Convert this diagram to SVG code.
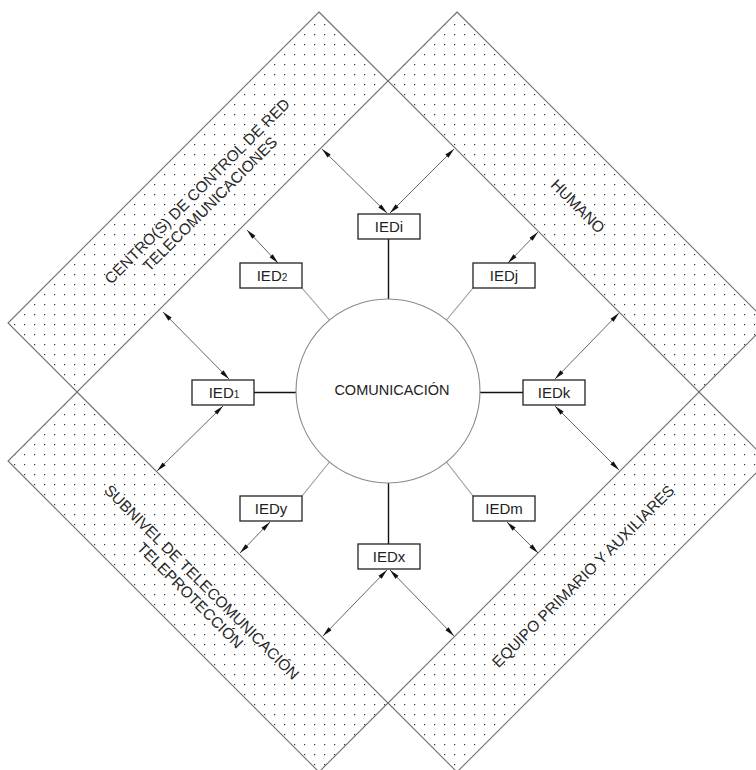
<svg xmlns="http://www.w3.org/2000/svg" width="756" height="770" viewBox="0 0 756 770">
<defs>
<pattern id="dots" patternUnits="userSpaceOnUse" width="10" height="10">
<rect x="4" y="4" width="1.2" height="1.2" fill="#333"/>
</pattern>
<marker id="ah" viewBox="0 0 10 6" refX="10" refY="3" markerWidth="10" markerHeight="6" markerUnits="userSpaceOnUse" orient="auto-start-reverse">
<path d="M0,0.8 L10,3 L0,5.2 z" fill="#111"/>
</marker>
<style>
.band{fill:url(#dots);stroke:#6e6e6e;stroke-width:1.1}
.lbl{font-family:"Liberation Sans",Arial,sans-serif;font-size:15.5px;fill:#2a2a2a;text-anchor:middle}
.box{fill:#fff;stroke:#222;stroke-width:1.3}
.bt{font-family:"Liberation Sans",Arial,sans-serif;font-size:15px;fill:#222;text-anchor:middle}
.sub{font-size:10px}
.blk{stroke:#111;stroke-width:1.4;fill:none}
.gry{stroke:#999;stroke-width:1.1;fill:none}
.arr{stroke:#666;stroke-width:1;fill:none;marker-start:url(#ah);marker-end:url(#ah)}
</style>
</defs>
<rect width="756" height="770" fill="#fff"/>
<g id="band-control">
<polygon class="band" points="319,12 388,81 77,392 8,323"/>
<g transform="translate(201,195) rotate(-45)">
<text class="lbl" x="0" y="0">CENTRO(S) DE CONTROL DE RED</text>
<text class="lbl" x="0" y="18">TELECOMUNICACIONES</text>
</g>
</g>
<g id="band-humano">
<polygon class="band" points="457,12 768,323 699,392 388,81"/>
<text class="lbl" transform="translate(574,210) rotate(45)" x="0" y="0">HUMANO</text>
</g>
<g id="band-subnivel">
<polygon class="band" points="77,392 388,703 319,772 8,461"/>
<g transform="translate(198,586) rotate(45)">
<text class="lbl" x="0" y="0">SUBNIVEL DE TELECOMUNICACIÓN</text>
<text class="lbl" x="1" y="17.5">TELEPROTECCIÓN</text>
</g>
</g>
<g id="band-equipo">
<polygon class="band" points="699,392 768,461 457,772 388,703"/>
<text class="lbl" transform="translate(587,580) rotate(-45)" x="0" y="0">EQUIPO PRIMARIO Y AUXILIARES</text>
</g>
<g id="connectors">
<line class="blk" x1="388.5" y1="239" x2="388.5" y2="299"/>
<line class="blk" x1="480" y1="392.5" x2="523" y2="392.5"/>
<line class="blk" x1="388.5" y1="483" x2="388.5" y2="544"/>
<line class="blk" x1="254" y1="392.5" x2="296" y2="392.5"/>
<line class="gry" x1="473" y1="288" x2="446.5" y2="320"/>
<line class="gry" x1="302" y1="288" x2="329.5" y2="320"/>
<line class="gry" x1="302" y1="496" x2="329.5" y2="462"/>
<line class="gry" x1="473" y1="496" x2="446.5" y2="462"/>
<line class="arr" x1="163" y1="312" x2="229" y2="379"/>
<line class="arr" x1="247" y1="230" x2="278" y2="263"/>
<line class="arr" x1="322" y1="149" x2="387" y2="213"/>
<line class="arr" x1="454" y1="149" x2="390" y2="213"/>
<line class="arr" x1="538" y1="232" x2="508" y2="263"/>
<line class="arr" x1="619" y1="313" x2="555" y2="379"/>
<line class="arr" x1="555" y1="406" x2="619" y2="470"/>
<line class="arr" x1="507" y1="522" x2="538" y2="553"/>
<line class="arr" x1="390" y1="570" x2="454" y2="636"/>
<line class="arr" x1="387" y1="570" x2="323" y2="636"/>
<line class="arr" x1="270" y1="522" x2="240" y2="553"/>
<line class="arr" x1="223" y1="406" x2="157" y2="471"/>
</g>
<g id="comunicacion">
<circle cx="388" cy="391" r="92" fill="#fff" stroke="#8a8a8a" stroke-width="1.1"/>
<text x="392" y="395" style="font-family:'Liberation Sans',Arial,sans-serif;font-size:14.5px;fill:#222;text-anchor:middle">COMUNICACIÓN</text>
</g>
<g id="IEDi"><rect class="box" x="358" y="214" width="62" height="25"/><text class="bt" x="389" y="232">IEDi</text></g>
<g id="IEDj"><rect class="box" x="473" y="263" width="62" height="25"/><text class="bt" x="504" y="281">IEDj</text></g>
<g id="IEDk"><rect class="box" x="523" y="380" width="62" height="25"/><text class="bt" x="554" y="398">IEDk</text></g>
<g id="IEDm"><rect class="box" x="473" y="496" width="62" height="25"/><text class="bt" x="504" y="514">IEDm</text></g>
<g id="IEDx"><rect class="box" x="358" y="544" width="62" height="25"/><text class="bt" x="389" y="562">IEDx</text></g>
<g id="IEDy"><rect class="box" x="240" y="496" width="62" height="25"/><text class="bt" x="271" y="514">IEDy</text></g>
<g id="IED1"><rect class="box" x="192" y="380" width="62" height="25"/><text class="bt" x="224" y="398">IED<tspan class="sub">1</tspan></text></g>
<g id="IED2"><rect class="box" x="240" y="263" width="62" height="25"/><text class="bt" x="272" y="281">IED<tspan class="sub">2</tspan></text></g>
</svg>
